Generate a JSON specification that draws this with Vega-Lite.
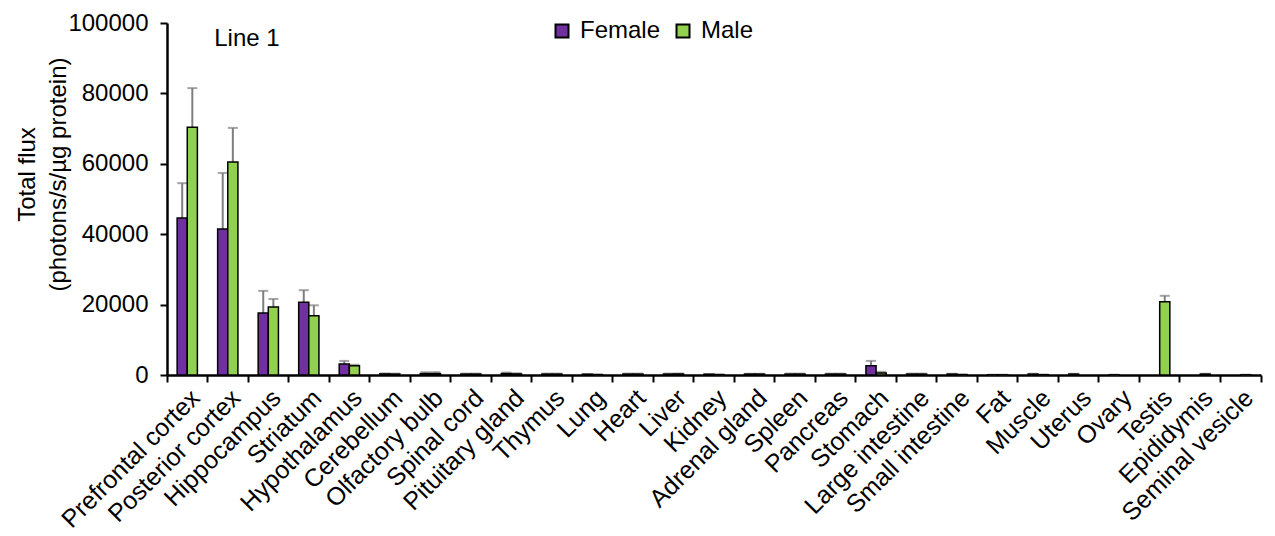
{
  "$schema": "https://vega.github.io/schema/vega-lite/v6.json",
  "width": 1094,
  "height": 352,
  "autosize": {"type": "none"},
  "padding": {"left": 167, "top": 23, "right": 14, "bottom": 161},
  "background": "white",
  "config": {
    "view": {"stroke": null},
    "font": "Liberation Sans",
    "axis": {"labelFont": "Liberation Sans", "titleFont": "Liberation Sans", "labelColor": "#000000", "titleColor": "#000000", "domainColor": "#000000", "tickColor": "#000000", "grid": false}
  },
  "datasets": {
    "flux": [
      {"tissue": "Prefrontal cortex", "sex": "Female", "flux": 44600, "upper": 54500},
      {"tissue": "Prefrontal cortex", "sex": "Male", "flux": 70400, "upper": 81500},
      {"tissue": "Posterior cortex", "sex": "Female", "flux": 41500, "upper": 57400},
      {"tissue": "Posterior cortex", "sex": "Male", "flux": 60500, "upper": 70200},
      {"tissue": "Hippocampus", "sex": "Female", "flux": 17600, "upper": 23900},
      {"tissue": "Hippocampus", "sex": "Male", "flux": 19300, "upper": 21600},
      {"tissue": "Striatum", "sex": "Female", "flux": 20700, "upper": 24100},
      {"tissue": "Striatum", "sex": "Male", "flux": 16800, "upper": 19800},
      {"tissue": "Hypothalamus", "sex": "Female", "flux": 3100, "upper": 4000},
      {"tissue": "Hypothalamus", "sex": "Male", "flux": 2600, "upper": 2900},
      {"tissue": "Cerebellum", "sex": "Female", "flux": 300, "upper": 450},
      {"tissue": "Cerebellum", "sex": "Male", "flux": 250, "upper": 400},
      {"tissue": "Olfactory bulb", "sex": "Female", "flux": 400, "upper": 800},
      {"tissue": "Olfactory bulb", "sex": "Male", "flux": 400, "upper": 800},
      {"tissue": "Spinal cord", "sex": "Female", "flux": 250, "upper": 400},
      {"tissue": "Spinal cord", "sex": "Male", "flux": 250, "upper": 400},
      {"tissue": "Pituitary gland", "sex": "Female", "flux": 400, "upper": 700},
      {"tissue": "Pituitary gland", "sex": "Male", "flux": 300, "upper": 500},
      {"tissue": "Thymus", "sex": "Female", "flux": 250, "upper": 400},
      {"tissue": "Thymus", "sex": "Male", "flux": 250, "upper": 400},
      {"tissue": "Lung", "sex": "Female", "flux": 200, "upper": 300},
      {"tissue": "Lung", "sex": "Male", "flux": 100, "upper": 150},
      {"tissue": "Heart", "sex": "Female", "flux": 250, "upper": 400},
      {"tissue": "Heart", "sex": "Male", "flux": 250, "upper": 400},
      {"tissue": "Liver", "sex": "Female", "flux": 250, "upper": 400},
      {"tissue": "Liver", "sex": "Male", "flux": 250, "upper": 400},
      {"tissue": "Kidney", "sex": "Female", "flux": 200, "upper": 300},
      {"tissue": "Kidney", "sex": "Male", "flux": 100, "upper": 150},
      {"tissue": "Adrenal gland", "sex": "Female", "flux": 250, "upper": 350},
      {"tissue": "Adrenal gland", "sex": "Male", "flux": 250, "upper": 350},
      {"tissue": "Spleen", "sex": "Female", "flux": 250, "upper": 400},
      {"tissue": "Spleen", "sex": "Male", "flux": 250, "upper": 400},
      {"tissue": "Pancreas", "sex": "Female", "flux": 250, "upper": 400},
      {"tissue": "Pancreas", "sex": "Male", "flux": 250, "upper": 400},
      {"tissue": "Stomach", "sex": "Female", "flux": 2600, "upper": 4000},
      {"tissue": "Stomach", "sex": "Male", "flux": 600, "upper": 900},
      {"tissue": "Large intestine", "sex": "Female", "flux": 250, "upper": 400},
      {"tissue": "Large intestine", "sex": "Male", "flux": 250, "upper": 400},
      {"tissue": "Small intestine", "sex": "Female", "flux": 250, "upper": 350},
      {"tissue": "Small intestine", "sex": "Male", "flux": 100, "upper": 150},
      {"tissue": "Fat", "sex": "Female", "flux": 50, "upper": 80},
      {"tissue": "Fat", "sex": "Male", "flux": 50, "upper": 80},
      {"tissue": "Muscle", "sex": "Female", "flux": 250, "upper": 350},
      {"tissue": "Muscle", "sex": "Male", "flux": 80, "upper": 120},
      {"tissue": "Uterus", "sex": "Female", "flux": 250, "upper": 350},
      {"tissue": "Ovary", "sex": "Female", "flux": 50, "upper": 80},
      {"tissue": "Testis", "sex": "Male", "flux": 20800, "upper": 22500},
      {"tissue": "Epididymis", "sex": "Male", "flux": 250, "upper": 350},
      {"tissue": "Seminal vesicle", "sex": "Male", "flux": 50, "upper": 80}
    ],
    "label": [{"text": "Line 1", "tissue": "Prefrontal cortex", "y": 95500}]
  },
  "resolve": {"axis": {"x": "independent"}},
  "layer": [
    {
      "data": {"name": "flux"},
      "mark": {"type": "rule", "color": "#7f7f7f", "strokeWidth": 2},
      "encoding": {
        "x": {"field": "tissue", "type": "nominal",
          "scale": {"domain": ["Prefrontal cortex", "Posterior cortex", "Hippocampus", "Striatum", "Hypothalamus", "Cerebellum", "Olfactory bulb", "Spinal cord", "Pituitary gland", "Thymus", "Lung", "Heart", "Liver", "Kidney", "Adrenal gland", "Spleen", "Pancreas", "Stomach", "Large intestine", "Small intestine", "Fat", "Muscle", "Uterus", "Ovary", "Testis", "Epididymis", "Seminal vesicle"], "paddingInner": 0, "paddingOuter": 0},
          "axis": {"orient": "bottom", "title": null, "bandPosition": 0.5, "ticks": false, "domain": false, "labelAngle": -45, "labelAlign": "right", "labelBaseline": "top", "labelFontSize": 25, "labelPadding": 10, "labelOffset": 0, "labelOverlap": false, "labelLimit": 400}},
        "xOffset": {"field": "sex", "type": "nominal", "scale": {"domain": ["Female", "Male"], "paddingInner": 0, "paddingOuter": 1.38}},
        "y": {"field": "flux", "type": "quantitative", "scale": {"domain": [0, 100000]},
          "axis": {"values": [0, 20000, 40000, 60000, 80000, 100000], "format": "d", "labelFontSize": 24, "labelPadding": 12, "tickSize": 7, "tickWidth": 2, "domainWidth": 2.5,
            "title": ["Total flux", "(photons/s/µg protein)"], "titleFontSize": 24, "titleFontWeight": "normal", "titleLineHeight": 31, "titleX": -128, "titleY": 151, "titleBaseline": "bottom"}},
        "y2": {"field": "upper"}
      }
    },
    {
      "data": {"name": "flux"},
      "mark": {"type": "tick", "color": "#7f7f7f", "thickness": 2, "size": 10, "orient": "horizontal"},
      "encoding": {
        "x": {"field": "tissue", "type": "nominal",
          "axis": {"orient": "bottom", "title": null, "values": ["Seminal vesicle"], "bandPosition": 1, "labels": false, "domain": false, "tickSize": 7, "tickWidth": 2}},
        "xOffset": {"field": "sex", "type": "nominal"},
        "y": {"field": "upper", "type": "quantitative"}
      }
    },
    {
      "data": {"name": "flux"},
      "mark": {"type": "bar", "stroke": "#000000", "strokeWidth": 1.5},
      "encoding": {
        "x": {"field": "tissue", "type": "nominal",
          "axis": {"orient": "bottom", "title": null, "bandPosition": 0, "labels": false, "tickSize": 7, "tickWidth": 2, "domainWidth": 2.5}},
        "xOffset": {"field": "sex", "type": "nominal"},
        "y": {"field": "flux", "type": "quantitative"},
        "color": {"field": "sex", "type": "nominal",
          "scale": {"domain": ["Female", "Male"], "range": ["#7030A0", "#92D050"]},
          "legend": {"title": null, "orient": "none", "legendX": 383, "legendY": -4, "direction": "horizontal", "symbolType": "square", "symbolSize": 169, "symbolStrokeColor": "#000000", "symbolStrokeWidth": 2, "symbolOpacity": 1, "labelFontSize": 24, "labelColor": "#000000", "labelFont": "Liberation Sans", "labelOffset": 6, "columnPadding": 10}}
      }
    },
    {
      "data": {"name": "label"},
      "mark": {"type": "text", "fontSize": 24, "align": "left", "baseline": "middle", "dx": 27, "color": "#000000"},
      "encoding": {
        "x": {"field": "tissue", "type": "nominal", "axis": null},
        "y": {"field": "y", "type": "quantitative"},
        "text": {"field": "text"}
      }
    }
  ]
}
